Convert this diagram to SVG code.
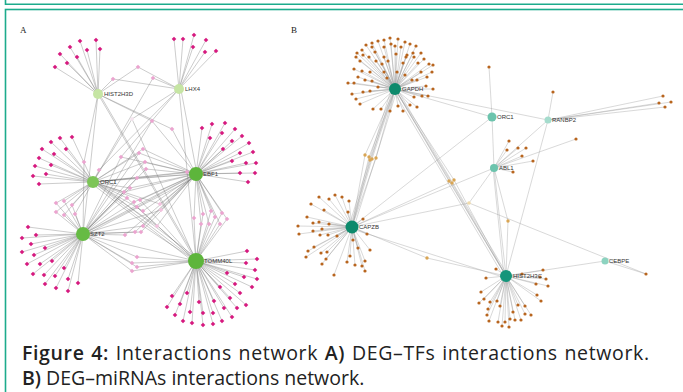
<svg xmlns="http://www.w3.org/2000/svg" xmlns:xlink="http://www.w3.org/1999/xlink" width="683" height="392" viewBox="0 0 683 392">
<style>
.frame{fill:none;stroke:#1dab8c;stroke-width:1.6}
.ea{fill:none;stroke:#7a7a7a;stroke-width:0.45;stroke-opacity:0.85}
.eb{fill:none;stroke:#9a9a9a;stroke-width:0.45;stroke-opacity:0.85}
.mg{fill:#d6197f}
.pk{fill:#eba4cf}
.pk2{fill:#f3c3df}
.br{fill:#b8651e}
.tn{fill:#d9a553}
.lbl{font-family:"Liberation Sans",Arial,sans-serif;font-size:6px;fill:#333}
.pl{font-family:"Liberation Serif","Times New Roman",serif;font-size:9px;fill:#222}
.cap{font-family:"Open Sans","Noto Sans",sans-serif;font-size:19.5px;fill:#222}
.b{font-weight:600}
</style>
<defs>
<path id="dm" d="M0 -2.3L2.3 0L0 2.3L-2.3 0Z"/>
</defs>
<rect width="683" height="392" fill="#fff"/>
<g id="frame">
<path class="frame" d="M5.5 0V4.2H690"/>
<rect class="frame" x="5.5" y="9.5" width="700" height="400"/>
</g>
<text class="pl" x="20" y="33">A</text>
<text class="pl" x="291" y="33">B</text>

<g id="connectors-A">
<path class="ea" d="M98 94L55 67M98 94L60 54M98 94L67 63M98 94L70 47M98 94L77 57M98 94L80 41M98 94L87 50M98 94L96 40M98 94L100 49"/>
<path class="ea" d="M179 89L174 39M179 89L183 39M179 89L194 35M179 89L193 47M179 89L206 40M179 89L205 52M179 89L216 51"/>
<path class="ea" d="M196 174L202 128M196 174L212 124M196 174L225 123M196 174L210 138M196 174L222 133M196 174L235 129M196 174L223 149M196 174L232 141M196 174L242 136M196 174L249 143M196 174L240 153M196 174L253 152M196 174L232 161M196 174L246 163M196 174L256 163M196 174L240 173M196 174L255 173M196 174L248 182"/>
<path class="ea" d="M93 182L72 137M93 182L60 138M93 182L51 142M93 182L42 149M93 182L66 149M93 182L54 154M93 182L39 158M93 182L35 166M93 182L51 165M93 182L33 176M93 182L46 174M93 182L39 184"/>
<path class="ea" d="M83 234L28 227M83 234L36 235M83 234L22 238M83 234L31 244M83 234L45 248M83 234L22 252M83 234L34 255M83 234L52 261M83 234L27 264M83 234L40 264M83 234L64 268M83 234L55 276M83 234L44 275M83 234L33 274M83 234L68 279M83 234L78 283M83 234L45 284M83 234L56 288M83 234L68 291"/>
<path class="ea" d="M196 261L247 251M196 261L257 259M196 261L246 263M196 261L255 270M196 261L257 279M196 261L244 277M196 261L227 273M196 261L252 287M196 261L235 284M196 261L220 287M196 261L240 293M196 261L230 298M196 261L246 305M196 261L237 308M196 261L224 308M196 261L214 301M196 261L232 317M196 261L222 321M196 261L213 313M196 261L213 324M196 261L203 313M196 261L203 325M196 261L192 323M196 261L199 302M196 261L190 312M196 261L183 321M196 261L187 293M196 261L180 304M196 261L175 315M196 261L167 307M196 261L172 296"/>
<path class="ea" d="M138 67L98 94M138 67L179 89M113 79L98 94M113 79L179 89M153 78L179 89M153 78L93 182M132 119L93 182M132 119L196 261M132 119L179 89M152 121L98 94M152 121L196 174M152 121L83 234M172 129L98 94M172 129L196 174M84 162L98 94M84 162L83 234M121 157L179 89M121 157L83 234M121 157L196 174M139 153L196 174M139 153L93 182M139 153L83 234M143 149L196 174M143 149L93 182M145 162L196 174M145 162L83 234M145 162L93 182M99 170L179 89M99 170L93 182M146 169L196 174M146 169L83 234M137 178L196 174M137 178L83 234M137 178L93 182M130 188L93 182M130 188L196 174M130 188L83 234M124 192L93 182M124 192L196 174M124 192L83 234M127 198L93 182M127 198L196 261M127 198L83 234M134 202L196 174M134 202L83 234M140 200L196 174M140 200L93 182M140 200L196 261M137 207L196 174M137 207L83 234M137 207L196 261M143 211L93 182M143 211L196 174M160 204L93 182M160 204L196 174M161 210L83 234M161 210L196 174"/>
<path class="ea" d="M56 203L93 182M56 203L83 234M64 201L93 182M64 201L83 234M72 205L93 182M72 205L83 234M56 212L93 182M56 212L83 234M64 215L93 182M64 215L83 234M75 214L93 182M75 214L83 234M143 226L83 234M143 226L196 174M143 226L196 261M157 226L93 182M157 226L196 174M135 232L83 234M135 232L196 174M141 232L83 234M141 232L196 174M125 235L83 234M125 235L196 174M137 257L83 234M137 257L196 261M132 263L83 234M132 263L196 261M137 267L83 234M137 267L196 261M132 271L83 234M132 271L196 261"/>
<path class="ea" d="M194 218L196 174M194 218L196 261M203 214L196 174M203 214L196 261M211 211L196 174M211 211L196 261M222 213L196 174M222 213L196 261M201 224L196 174M201 224L196 261M209 224L196 174M209 224L196 261M215 217L196 174M215 217L196 261M227 219L196 174M227 219L196 261M220 224L196 174M220 224L196 261M187 172L196 174M187 172L93 182M193 172L196 174M193 172L93 182"/>
<path class="ea" d="M98 94L196 261M100 95L198 262M98 94L83 234M179 89L196 261M181 90L197 174M93 182L196 261M95 181L198 259M91 183L194 262M83 234L196 174M85 235L198 176M93 182L196 174M83 234L196 261"/>
</g>

<g id="connectors-B">
<path class="eb" d="M395 89L390 38M395 89L398 39M395 89L384 40M395 89L378 41M395 89L405 42M395 89L410 44M395 89L416 46M395 89L372 43M395 89L366 45M395 89L372 47M395 89L391 44M395 89L395 46M395 89L401 47M395 89L384 47M395 89L375 52M395 89L362 50M395 89L357 53M395 89L363 55M395 89L369 57M395 89L356 57M395 89L360 61M395 89L421 53M395 89L424 59M395 89L413 53M395 89L407 55M395 89L414 57M395 89L418 63M395 89L429 64M395 89L433 65M395 89L432 72M395 89L421 72M395 89L427 77M395 89L354 69M395 89L362 71M395 89L370 72M395 89L348 83M395 89L354 83M395 89L358 77M395 89L365 80M395 89L372 81M395 89L352 94M395 89L356 99M395 89L360 104M395 89L373 109M395 89L381 109M395 89L390 111M395 89L398 106M395 89L403 111M395 89L410 105M395 89L417 107M395 89L414 97M395 89L422 96M395 89L428 96M395 89L433 89M395 89L426 86M395 89L417 80M395 89L363 92M395 89L370 91M395 89L378 87M395 89L376 61M395 89L382 64M395 89L384 57M395 89L388 61M395 89L396 54M395 89L403 63M395 89L406 57M395 89L384 72M395 89L387 78M395 89L397 72M395 89L405 75M395 89L412 80"/>
<path class="eb" d="M352 227L319 197M352 227L329 199M352 227L335 195M352 227L342 197M352 227L349 201M352 227L311 204M352 227L324 210M352 227L348 212M352 227L307 217M352 227L313 223M352 227L319 222M352 227L329 224M352 227L298 226M352 227L313 231M352 227L322 229M352 227L320 235M352 227L328 235M352 227L337 236M352 227L299 234M352 227L314 247M352 227L308 251M352 227L321 253M352 227L327 252M352 227L306 257M352 227L326 259M352 227L322 264M352 227L334 275M352 227L350 256M352 227L347 262M352 227L355 265M352 227L362 266M352 227L365 271M352 227L365 261M352 227L358 248M352 227L370 250M352 227L353 240M352 227L363 219M352 227L367 234"/>
<path class="eb" d="M506 276L496 269M506 276L486 278M506 276L481 292M506 276L484 299M506 276L479 303M506 276L490 302M506 276L497 301M506 276L488 309M506 276L487 315M506 276L489 321M506 276L498 322M506 276L502 326M506 276L509 327M506 276L505 322M506 276L510 319M506 276L515 320M506 276L521 320M506 276L513 312M506 276L518 305M506 276L525 306M506 276L525 314M506 276L531 315M506 276L500 306M506 276L537 295M506 276L541 301M506 276L536 284M506 276L548 286M506 276L540 277M506 276L546 279M506 276L543 270M506 276L522 274"/>
<path class="eb" d="M492 117L489 67M548 120L553 92M548 120L663 96M548 120L671 102M548 120L659 103M548 120L665 107M494 168L509 141M494 168L507 150M494 168L518 148M494 168L526 148M494 168L522 156M494 168L533 161M494 168L513 172M494 168L576 139M605 261L646 274"/>
<path class="eb" d="M395 89L492 117M395 89L548 120M395 89L365 155L352 227M395 89L369 157L352 227M395 89L372 159L352 227M395 89L376 158L352 227M395 89L370 160L352 227M393 89L350 227M397 90L354 227M391 90L349 226M395 89L449 181L506 276M395 89L452 183L506 276M395 89L454 180L506 276M395 89L506 276M397 89L508 276M393 90L504 277M492 117L494 168M352 227L492 117M548 120L494 168M548 120L506 276M352 227L494 168M352 227L451 182M352 227L469 203M469 203L494 168M469 203L646 274M352 227L427 258L506 276M352 229L506 278M494 168L506 276M494 168L508 221L506 276M493 168L504 276M506 276L605 261"/>
</g>

<g id="leaves-A">
<g class="mg">
<use href="#dm" x="55" y="67"/><use href="#dm" x="60" y="54"/><use href="#dm" x="67" y="63"/><use href="#dm" x="70" y="47"/><use href="#dm" x="77" y="57"/><use href="#dm" x="80" y="41"/><use href="#dm" x="87" y="50"/><use href="#dm" x="96" y="40"/><use href="#dm" x="100" y="49"/>
<use href="#dm" x="174" y="39"/><use href="#dm" x="183" y="39"/><use href="#dm" x="194" y="35"/><use href="#dm" x="193" y="47"/><use href="#dm" x="206" y="40"/><use href="#dm" x="205" y="52"/><use href="#dm" x="216" y="51"/>
<use href="#dm" x="202" y="128"/><use href="#dm" x="212" y="124"/><use href="#dm" x="225" y="123"/><use href="#dm" x="210" y="138"/><use href="#dm" x="222" y="133"/><use href="#dm" x="235" y="129"/><use href="#dm" x="223" y="149"/><use href="#dm" x="232" y="141"/><use href="#dm" x="242" y="136"/><use href="#dm" x="249" y="143"/><use href="#dm" x="240" y="153"/><use href="#dm" x="253" y="152"/><use href="#dm" x="232" y="161"/><use href="#dm" x="246" y="163"/><use href="#dm" x="256" y="163"/><use href="#dm" x="240" y="173"/><use href="#dm" x="255" y="173"/><use href="#dm" x="248" y="182"/>
<use href="#dm" x="72" y="137"/><use href="#dm" x="60" y="138"/><use href="#dm" x="51" y="142"/><use href="#dm" x="42" y="149"/><use href="#dm" x="66" y="149"/><use href="#dm" x="54" y="154"/><use href="#dm" x="39" y="158"/><use href="#dm" x="35" y="166"/><use href="#dm" x="51" y="165"/><use href="#dm" x="33" y="176"/><use href="#dm" x="46" y="174"/><use href="#dm" x="39" y="184"/>
<use href="#dm" x="28" y="227"/><use href="#dm" x="36" y="235"/><use href="#dm" x="22" y="238"/><use href="#dm" x="31" y="244"/><use href="#dm" x="45" y="248"/><use href="#dm" x="22" y="252"/><use href="#dm" x="34" y="255"/><use href="#dm" x="52" y="261"/><use href="#dm" x="27" y="264"/><use href="#dm" x="40" y="264"/><use href="#dm" x="64" y="268"/><use href="#dm" x="55" y="276"/><use href="#dm" x="44" y="275"/><use href="#dm" x="33" y="274"/><use href="#dm" x="68" y="279"/><use href="#dm" x="78" y="283"/><use href="#dm" x="45" y="284"/><use href="#dm" x="56" y="288"/><use href="#dm" x="68" y="291"/>
<use href="#dm" x="247" y="251"/><use href="#dm" x="257" y="259"/><use href="#dm" x="246" y="263"/><use href="#dm" x="255" y="270"/><use href="#dm" x="257" y="279"/><use href="#dm" x="244" y="277"/><use href="#dm" x="227" y="273"/><use href="#dm" x="252" y="287"/><use href="#dm" x="235" y="284"/><use href="#dm" x="220" y="287"/><use href="#dm" x="240" y="293"/><use href="#dm" x="230" y="298"/><use href="#dm" x="246" y="305"/><use href="#dm" x="237" y="308"/><use href="#dm" x="224" y="308"/><use href="#dm" x="214" y="301"/><use href="#dm" x="232" y="317"/><use href="#dm" x="222" y="321"/><use href="#dm" x="213" y="313"/><use href="#dm" x="213" y="324"/><use href="#dm" x="203" y="313"/><use href="#dm" x="203" y="325"/><use href="#dm" x="192" y="323"/><use href="#dm" x="199" y="302"/><use href="#dm" x="190" y="312"/><use href="#dm" x="183" y="321"/><use href="#dm" x="187" y="293"/><use href="#dm" x="180" y="304"/><use href="#dm" x="175" y="315"/><use href="#dm" x="167" y="307"/><use href="#dm" x="172" y="296"/>
</g>
<g class="pk">
<use href="#dm" x="138" y="67"/><use href="#dm" x="113" y="79"/><use href="#dm" x="153" y="78"/><use href="#dm" x="152" y="121"/><use href="#dm" x="172" y="129"/><use href="#dm" x="84" y="162"/><use href="#dm" x="121" y="157"/><use href="#dm" x="139" y="153"/><use href="#dm" x="143" y="149"/><use href="#dm" x="145" y="162"/><use href="#dm" x="99" y="170"/><use href="#dm" x="146" y="169"/><use href="#dm" x="137" y="178"/><use href="#dm" x="130" y="188"/><use href="#dm" x="124" y="192"/><use href="#dm" x="127" y="198"/><use href="#dm" x="134" y="202"/><use href="#dm" x="140" y="200"/><use href="#dm" x="137" y="207"/><use href="#dm" x="143" y="211"/>
<use href="#dm" x="56" y="203"/><use href="#dm" x="64" y="201"/><use href="#dm" x="72" y="205"/><use href="#dm" x="56" y="212"/><use href="#dm" x="64" y="215"/><use href="#dm" x="75" y="214"/><use href="#dm" x="143" y="226"/><use href="#dm" x="135" y="232"/><use href="#dm" x="141" y="232"/><use href="#dm" x="125" y="235"/><use href="#dm" x="137" y="257"/><use href="#dm" x="132" y="263"/><use href="#dm" x="137" y="267"/><use href="#dm" x="132" y="271"/>
<use href="#dm" x="194" y="218"/><use href="#dm" x="203" y="214"/><use href="#dm" x="211" y="211"/><use href="#dm" x="222" y="213"/><use href="#dm" x="201" y="224"/><use href="#dm" x="209" y="224"/><use href="#dm" x="215" y="217"/><use href="#dm" x="227" y="219"/><use href="#dm" x="220" y="224"/><use href="#dm" x="187" y="172"/><use href="#dm" x="193" y="172"/>
</g>
<g class="pk2">
<use href="#dm" x="160" y="204"/><use href="#dm" x="161" y="210"/><use href="#dm" x="157" y="226"/>
<use href="#dm" x="132" y="119" style="fill:#f4e4ee"/>
</g>
</g>

<g id="HIST2H3D"><circle cx="98" cy="94" r="5" fill="#c6e5a4"/><text class="lbl" x="104" y="96">HIST2H3D</text></g>
<g id="LHX4"><circle cx="179" cy="89" r="5" fill="#c6e5a4"/><text class="lbl" x="185" y="91">LHX4</text></g>
<g id="ORC1-A"><circle cx="93" cy="182" r="6" fill="#7dc557"/><text class="lbl" x="100" y="184">ORC1</text></g>
<g id="EBF1"><circle cx="196" cy="174" r="7" fill="#5db53b"/><text class="lbl" x="203" y="176">EBF1</text></g>
<g id="SZT2"><circle cx="83" cy="234" r="7" fill="#66bb44"/><text class="lbl" x="90" y="236">SZT2</text></g>
<g id="TOMM40L"><circle cx="196" cy="261" r="8" fill="#5db53b"/><text class="lbl" x="204" y="263">TOMM40L</text></g>

<g id="leaves-B">
<g class="br">
<circle cx="390" cy="38" r="1.6"/><circle cx="398" cy="39" r="1.6"/><circle cx="384" cy="40" r="1.6"/><circle cx="378" cy="41" r="1.6"/><circle cx="405" cy="42" r="1.6"/><circle cx="410" cy="44" r="1.6"/><circle cx="416" cy="46" r="1.6"/><circle cx="372" cy="43" r="1.6"/><circle cx="366" cy="45" r="1.6"/><circle cx="372" cy="47" r="1.6"/><circle cx="391" cy="44" r="1.6"/><circle cx="395" cy="46" r="1.6"/><circle cx="401" cy="47" r="1.6"/><circle cx="384" cy="47" r="1.6"/><circle cx="375" cy="52" r="1.6"/><circle cx="362" cy="50" r="1.6"/><circle cx="357" cy="53" r="1.6"/><circle cx="363" cy="55" r="1.6"/><circle cx="369" cy="57" r="1.6"/><circle cx="356" cy="57" r="1.6"/><circle cx="360" cy="61" r="1.6"/><circle cx="421" cy="53" r="1.6"/><circle cx="424" cy="59" r="1.6"/><circle cx="413" cy="53" r="1.6"/><circle cx="407" cy="55" r="1.6"/><circle cx="414" cy="57" r="1.6"/><circle cx="418" cy="63" r="1.6"/><circle cx="429" cy="64" r="1.6"/><circle cx="433" cy="65" r="1.6"/><circle cx="432" cy="72" r="1.6"/><circle cx="421" cy="72" r="1.6"/><circle cx="427" cy="77" r="1.6"/><circle cx="354" cy="69" r="1.6"/><circle cx="362" cy="71" r="1.6"/><circle cx="370" cy="72" r="1.6"/><circle cx="348" cy="83" r="1.6"/><circle cx="354" cy="83" r="1.6"/><circle cx="358" cy="77" r="1.6"/><circle cx="365" cy="80" r="1.6"/><circle cx="372" cy="81" r="1.6"/><circle cx="352" cy="94" r="1.6"/><circle cx="356" cy="99" r="1.6"/><circle cx="360" cy="104" r="1.6"/><circle cx="373" cy="109" r="1.6"/><circle cx="381" cy="109" r="1.6"/><circle cx="390" cy="111" r="1.6"/><circle cx="398" cy="106" r="1.6"/><circle cx="403" cy="111" r="1.6"/><circle cx="410" cy="105" r="1.6"/><circle cx="417" cy="107" r="1.6"/><circle cx="414" cy="97" r="1.6"/><circle cx="422" cy="96" r="1.6"/><circle cx="428" cy="96" r="1.6"/><circle cx="433" cy="89" r="1.6"/><circle cx="426" cy="86" r="1.6"/><circle cx="417" cy="80" r="1.6"/><circle cx="363" cy="92" r="1.6"/><circle cx="370" cy="91" r="1.6"/><circle cx="378" cy="87" r="1.6"/><circle cx="376" cy="61" r="1.6"/><circle cx="382" cy="64" r="1.6"/><circle cx="384" cy="57" r="1.6"/><circle cx="388" cy="61" r="1.6"/><circle cx="396" cy="54" r="1.6"/><circle cx="403" cy="63" r="1.6"/><circle cx="406" cy="57" r="1.6"/><circle cx="384" cy="72" r="1.6"/><circle cx="387" cy="78" r="1.6"/><circle cx="397" cy="72" r="1.6"/><circle cx="405" cy="75" r="1.6"/><circle cx="412" cy="80" r="1.6"/>
<circle cx="319" cy="197" r="1.6"/><circle cx="329" cy="199" r="1.6"/><circle cx="335" cy="195" r="1.6"/><circle cx="342" cy="197" r="1.6"/><circle cx="349" cy="201" r="1.6"/><circle cx="311" cy="204" r="1.6"/><circle cx="324" cy="210" r="1.6"/><circle cx="348" cy="212" r="1.6"/><circle cx="307" cy="217" r="1.6"/><circle cx="313" cy="223" r="1.6"/><circle cx="319" cy="222" r="1.6"/><circle cx="329" cy="224" r="1.6"/><circle cx="298" cy="226" r="1.6"/><circle cx="313" cy="231" r="1.6"/><circle cx="322" cy="229" r="1.6"/><circle cx="320" cy="235" r="1.6"/><circle cx="328" cy="235" r="1.6"/><circle cx="337" cy="236" r="1.6"/><circle cx="299" cy="234" r="1.6"/><circle cx="314" cy="247" r="1.6"/><circle cx="308" cy="251" r="1.6"/><circle cx="321" cy="253" r="1.6"/><circle cx="327" cy="252" r="1.6"/><circle cx="306" cy="257" r="1.6"/><circle cx="326" cy="259" r="1.6"/><circle cx="322" cy="264" r="1.6"/><circle cx="334" cy="275" r="1.6"/><circle cx="350" cy="256" r="1.6"/><circle cx="347" cy="262" r="1.6"/><circle cx="355" cy="265" r="1.6"/><circle cx="362" cy="266" r="1.6"/><circle cx="365" cy="271" r="1.6"/><circle cx="365" cy="261" r="1.6"/><circle cx="358" cy="248" r="1.6"/><circle cx="370" cy="250" r="1.6"/><circle cx="353" cy="240" r="1.6"/><circle cx="363" cy="219" r="1.6"/><circle cx="367" cy="234" r="1.6"/>
<circle cx="496" cy="269" r="1.6"/><circle cx="486" cy="278" r="1.6"/><circle cx="481" cy="292" r="1.6"/><circle cx="484" cy="299" r="1.6"/><circle cx="479" cy="303" r="1.6"/><circle cx="490" cy="302" r="1.6"/><circle cx="497" cy="301" r="1.6"/><circle cx="488" cy="309" r="1.6"/><circle cx="487" cy="315" r="1.6"/><circle cx="489" cy="321" r="1.6"/><circle cx="498" cy="322" r="1.6"/><circle cx="502" cy="326" r="1.6"/><circle cx="509" cy="327" r="1.6"/><circle cx="505" cy="322" r="1.6"/><circle cx="510" cy="319" r="1.6"/><circle cx="515" cy="320" r="1.6"/><circle cx="521" cy="320" r="1.6"/><circle cx="513" cy="312" r="1.6"/><circle cx="518" cy="305" r="1.6"/><circle cx="525" cy="306" r="1.6"/><circle cx="525" cy="314" r="1.6"/><circle cx="531" cy="315" r="1.6"/><circle cx="500" cy="306" r="1.6"/><circle cx="537" cy="295" r="1.6"/><circle cx="541" cy="301" r="1.6"/><circle cx="536" cy="284" r="1.6"/><circle cx="548" cy="286" r="1.6"/><circle cx="540" cy="277" r="1.6"/><circle cx="546" cy="279" r="1.6"/><circle cx="543" cy="270" r="1.6"/><circle cx="522" cy="274" r="1.6"/>
<circle cx="489" cy="67" r="1.6"/><circle cx="553" cy="92" r="1.6"/><circle cx="663" cy="96" r="1.6"/><circle cx="671" cy="102" r="1.6"/><circle cx="659" cy="103" r="1.6"/><circle cx="665" cy="107" r="1.6"/><circle cx="509" cy="141" r="1.6"/><circle cx="507" cy="150" r="1.6"/><circle cx="518" cy="148" r="1.6"/><circle cx="526" cy="148" r="1.6"/><circle cx="522" cy="156" r="1.6"/><circle cx="533" cy="161" r="1.6"/><circle cx="513" cy="172" r="1.6"/><circle cx="576" cy="139" r="1.6"/><circle cx="646" cy="274" r="1.6"/>
</g>
<g class="tn">
<circle cx="365" cy="155" r="1.7"/><circle cx="369" cy="157" r="1.7"/><circle cx="372" cy="159" r="1.7"/><circle cx="376" cy="158" r="1.7"/><circle cx="370" cy="160" r="1.7"/><circle cx="449" cy="181" r="1.7"/><circle cx="452" cy="183" r="1.7"/><circle cx="454" cy="180" r="1.7"/><circle cx="427" cy="258" r="1.7"/><circle cx="508" cy="221" r="1.7"/>
<circle cx="469" cy="203" r="1.8" fill="#f0dbab"/>
</g>
</g>

<g id="GAPDH"><circle cx="395" cy="89" r="6" fill="#0e8a6c"/><text class="lbl" x="402" y="91">GAPDH</text></g>
<g id="ORC1-B"><circle cx="492" cy="117" r="4.5" fill="#6cc4ad"/><text class="lbl" x="497" y="119">ORC1</text></g>
<g id="RANBP2"><circle cx="548" cy="120" r="3.5" fill="#a5dccd"/><text class="lbl" x="552" y="122">RANBP2</text></g>
<g id="ABL1"><circle cx="494" cy="168" r="4" fill="#6cc4ad"/><text class="lbl" x="499" y="170">ABL1</text></g>
<g id="CAPZB"><circle cx="352" cy="227" r="6.5" fill="#0e8a6c"/><text class="lbl" x="359" y="229">CAPZB</text></g>
<g id="HIST2H3C"><circle cx="506" cy="276" r="6" fill="#14957a"/><text class="lbl" x="513" y="278">HIST2H3C</text></g>
<g id="CEBPE"><circle cx="605" cy="261" r="3.5" fill="#8dd3c0"/><text class="lbl" x="609" y="263">CEBPE</text></g>

<g id="caption">
<text class="cap" x="22" y="360" letter-spacing="0.65" word-spacing="1"><tspan class="b">Figure 4:</tspan> Interactions network <tspan class="b">A)</tspan> DEG–TFs interactions network.</text>
<text class="cap" x="22" y="385"><tspan class="b">B)</tspan> DEG–miRNAs interactions network.</text>
</g>
</svg>
